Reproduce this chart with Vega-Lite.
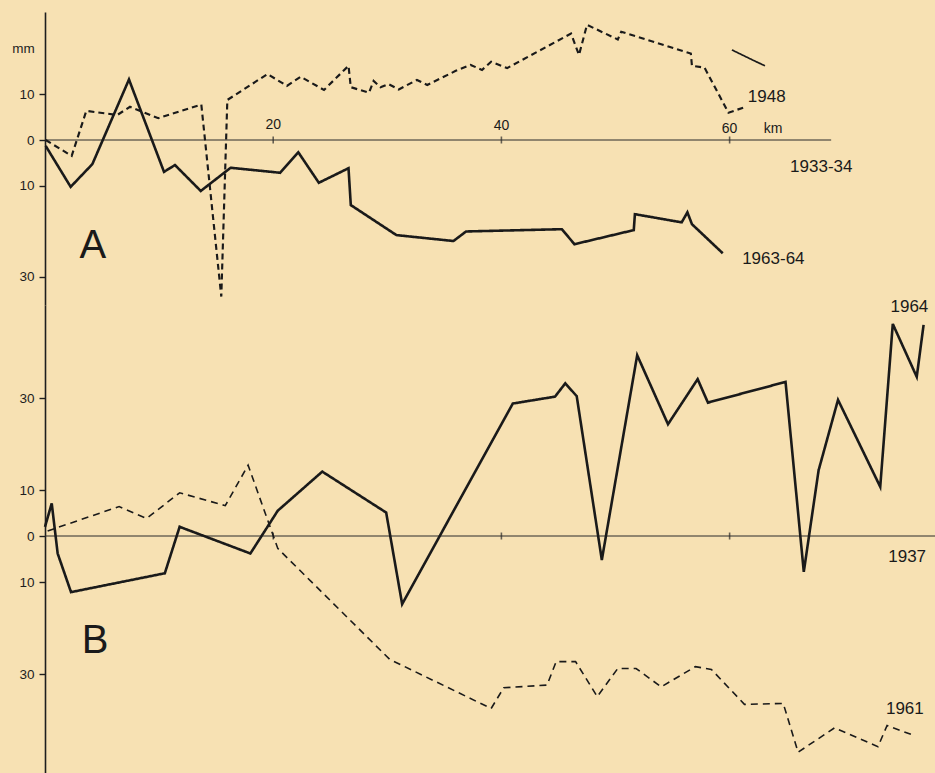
{
  "$schema": "https://vega.github.io/schema/vega-lite/v6.json",
  "background": "#F7E1B3",
  "padding": {"left": 0, "top": 12, "right": 0, "bottom": 0},
  "spacing": 0,
  "bounds": "flush",
  "resolve": {"scale": {"strokeWidth": "independent", "strokeDash": "independent"}},
  "config": {
    "view": {"stroke": null},
    "axis": {
      "domainColor": "#1e1e1e", "domainWidth": 1.6, "tickColor": "#1e1e1e", "tickWidth": 1.4, "tickSize": 6,
      "labelFont": "Liberation Sans", "labelFontSize": 13.5, "labelColor": "#1e1e1e", "labelPadding": 5,
      "titleFont": "Liberation Sans", "titleFontSize": 13.5, "titleFontWeight": "normal", "titleColor": "#1e1e1e",
      "grid": false, "minExtent": 45, "maxExtent": 45
    },
    "text": {"font": "Liberation Sans", "color": "#1a1a1a"}
  },
  "datasets": {
    "lines": [
      {"panel": "A", "series": "1963-64", "km": 0.06, "mm": -1.3},
      {"panel": "A", "series": "1963-64", "km": 2.25, "mm": -10.3},
      {"panel": "A", "series": "1963-64", "km": 4.15, "mm": -5.3},
      {"panel": "A", "series": "1963-64", "km": 7.36, "mm": 13.3},
      {"panel": "A", "series": "1963-64", "km": 10.43, "mm": -7.0},
      {"panel": "A", "series": "1963-64", "km": 11.39, "mm": -5.5},
      {"panel": "A", "series": "1963-64", "km": 13.65, "mm": -11.2},
      {"panel": "A", "series": "1963-64", "km": 16.27, "mm": -6.1},
      {"panel": "A", "series": "1963-64", "km": 20.6, "mm": -7.2},
      {"panel": "A", "series": "1963-64", "km": 22.2, "mm": -2.7},
      {"panel": "A", "series": "1963-64", "km": 24.0, "mm": -9.4},
      {"panel": "A", "series": "1963-64", "km": 26.6, "mm": -6.2},
      {"panel": "A", "series": "1963-64", "km": 26.8, "mm": -14.3},
      {"panel": "A", "series": "1963-64", "km": 30.8, "mm": -20.9},
      {"panel": "A", "series": "1963-64", "km": 35.8, "mm": -22.2},
      {"panel": "A", "series": "1963-64", "km": 36.9, "mm": -20.1},
      {"panel": "A", "series": "1963-64", "km": 45.3, "mm": -19.6},
      {"panel": "A", "series": "1963-64", "km": 46.4, "mm": -22.9},
      {"panel": "A", "series": "1963-64", "km": 51.6, "mm": -19.8},
      {"panel": "A", "series": "1963-64", "km": 51.7, "mm": -16.3},
      {"panel": "A", "series": "1963-64", "km": 55.8, "mm": -18.1},
      {"panel": "A", "series": "1963-64", "km": 56.3, "mm": -15.9},
      {"panel": "A", "series": "1963-64", "km": 56.7, "mm": -18.5},
      {"panel": "A", "series": "1963-64", "km": 59.4, "mm": -24.9},

      {"panel": "A", "series": "1948", "km": 0.06, "mm": 0},
      {"panel": "A", "series": "1948", "km": 2.34, "mm": -3.5},
      {"panel": "A", "series": "1948", "km": 3.62, "mm": 6.4},
      {"panel": "A", "series": "1948", "km": 6.34, "mm": 5.5},
      {"panel": "A", "series": "1948", "km": 7.45, "mm": 7.3},
      {"panel": "A", "series": "1948", "km": 9.93, "mm": 4.8},
      {"panel": "A", "series": "1948", "km": 13.7, "mm": 7.8},
      {"panel": "A", "series": "1948", "km": 15.45, "mm": -34.4},
      {"panel": "A", "series": "1948", "km": 15.98, "mm": 8.8},
      {"panel": "A", "series": "1948", "km": 19.5, "mm": 14.5},
      {"panel": "A", "series": "1948", "km": 21.2, "mm": 11.9},
      {"panel": "A", "series": "1948", "km": 22.4, "mm": 13.9},
      {"panel": "A", "series": "1948", "km": 24.45, "mm": 11.0},
      {"panel": "A", "series": "1948", "km": 26.6, "mm": 16.3},
      {"panel": "A", "series": "1948", "km": 26.8, "mm": 11.6},
      {"panel": "A", "series": "1948", "km": 28.4, "mm": 10.4},
      {"panel": "A", "series": "1948", "km": 28.8, "mm": 13.0},
      {"panel": "A", "series": "1948", "km": 29.4, "mm": 11.6},
      {"panel": "A", "series": "1948", "km": 30.1, "mm": 12.3},
      {"panel": "A", "series": "1948", "km": 31.0, "mm": 11.1},
      {"panel": "A", "series": "1948", "km": 32.6, "mm": 13.2},
      {"panel": "A", "series": "1948", "km": 33.5, "mm": 12.1},
      {"panel": "A", "series": "1948", "km": 36.0, "mm": 15.2},
      {"panel": "A", "series": "1948", "km": 37.3, "mm": 16.5},
      {"panel": "A", "series": "1948", "km": 38.3, "mm": 15.4},
      {"panel": "A", "series": "1948", "km": 39.1, "mm": 17.2},
      {"panel": "A", "series": "1948", "km": 40.5, "mm": 15.8},
      {"panel": "A", "series": "1948", "km": 46.1, "mm": 23.4},
      {"panel": "A", "series": "1948", "km": 46.8, "mm": 18.7},
      {"panel": "A", "series": "1948", "km": 47.5, "mm": 25.3},
      {"panel": "A", "series": "1948", "km": 50.2, "mm": 22.1},
      {"panel": "A", "series": "1948", "km": 50.5, "mm": 23.8},
      {"panel": "A", "series": "1948", "km": 56.6, "mm": 19.0},
      {"panel": "A", "series": "1948", "km": 56.7, "mm": 16.3},
      {"panel": "A", "series": "1948", "km": 57.8, "mm": 15.9},
      {"panel": "A", "series": "1948", "km": 59.9, "mm": 6.0},
      {"panel": "A", "series": "1948", "km": 61.3, "mm": 7.2},

      {"panel": "A", "series": "1948b", "km": 60.2, "mm": 19.8},
      {"panel": "A", "series": "1948b", "km": 62.0, "mm": 17.6},
      {"panel": "A", "series": "1948b", "km": 63.1, "mm": 16.3},

      {"panel": "B", "series": "1964", "km": 0.0, "mm": 2.0},
      {"panel": "B", "series": "1964", "km": 0.59, "mm": 7.1},
      {"panel": "B", "series": "1964", "km": 1.11, "mm": -3.8},
      {"panel": "B", "series": "1964", "km": 2.28, "mm": -12.2},
      {"panel": "B", "series": "1964", "km": 10.5, "mm": -8.1},
      {"panel": "B", "series": "1964", "km": 11.8, "mm": 2.0},
      {"panel": "B", "series": "1964", "km": 18.0, "mm": -3.8},
      {"panel": "B", "series": "1964", "km": 20.4, "mm": 5.5},
      {"panel": "B", "series": "1964", "km": 24.3, "mm": 14.0},
      {"panel": "B", "series": "1964", "km": 29.9, "mm": 5.1},
      {"panel": "B", "series": "1964", "km": 31.3, "mm": -14.8},
      {"panel": "B", "series": "1964", "km": 41.0, "mm": 28.8},
      {"panel": "B", "series": "1964", "km": 44.7, "mm": 30.3},
      {"panel": "B", "series": "1964", "km": 45.6, "mm": 33.2},
      {"panel": "B", "series": "1964", "km": 46.6, "mm": 30.4},
      {"panel": "B", "series": "1964", "km": 48.8, "mm": -5.2},
      {"panel": "B", "series": "1964", "km": 51.9, "mm": 39.3},
      {"panel": "B", "series": "1964", "km": 54.6, "mm": 24.3},
      {"panel": "B", "series": "1964", "km": 57.2, "mm": 34.1},
      {"panel": "B", "series": "1964", "km": 58.1, "mm": 29.0},
      {"panel": "B", "series": "1964", "km": 64.9, "mm": 33.5},
      {"panel": "B", "series": "1964", "km": 66.5, "mm": -7.8},
      {"panel": "B", "series": "1964", "km": 67.8, "mm": 14.3},
      {"panel": "B", "series": "1964", "km": 69.5, "mm": 29.6},
      {"panel": "B", "series": "1964", "km": 73.2, "mm": 10.7},
      {"panel": "B", "series": "1964", "km": 74.3, "mm": 46.1},
      {"panel": "B", "series": "1964", "km": 76.4, "mm": 34.6},
      {"panel": "B", "series": "1964", "km": 77.0, "mm": 45.9},

      {"panel": "B", "series": "1961", "km": 0.23, "mm": 1.1},
      {"panel": "B", "series": "1961", "km": 6.5, "mm": 6.4},
      {"panel": "B", "series": "1961", "km": 8.9, "mm": 3.8},
      {"panel": "B", "series": "1961", "km": 11.8, "mm": 9.4},
      {"panel": "B", "series": "1961", "km": 15.8, "mm": 6.6},
      {"panel": "B", "series": "1961", "km": 17.8, "mm": 15.4},
      {"panel": "B", "series": "1961", "km": 20.4, "mm": -2.7},
      {"panel": "B", "series": "1961", "km": 30.2, "mm": -26.8},
      {"panel": "B", "series": "1961", "km": 39.1, "mm": -37.5},
      {"panel": "B", "series": "1961", "km": 40.2, "mm": -33.0},
      {"panel": "B", "series": "1961", "km": 44.0, "mm": -32.4},
      {"panel": "B", "series": "1961", "km": 44.8, "mm": -27.3},
      {"panel": "B", "series": "1961", "km": 46.5, "mm": -27.3},
      {"panel": "B", "series": "1961", "km": 48.4, "mm": -34.9},
      {"panel": "B", "series": "1961", "km": 50.2, "mm": -28.8},
      {"panel": "B", "series": "1961", "km": 51.8, "mm": -28.8},
      {"panel": "B", "series": "1961", "km": 54.0, "mm": -32.8},
      {"panel": "B", "series": "1961", "km": 57.0, "mm": -28.4},
      {"panel": "B", "series": "1961", "km": 58.4, "mm": -29.0},
      {"panel": "B", "series": "1961", "km": 61.3, "mm": -36.6},
      {"panel": "B", "series": "1961", "km": 64.7, "mm": -36.4},
      {"panel": "B", "series": "1961", "km": 66.0, "mm": -47.0},
      {"panel": "B", "series": "1961", "km": 69.2, "mm": -41.7},
      {"panel": "B", "series": "1961", "km": 73.0, "mm": -45.8},
      {"panel": "B", "series": "1961", "km": 73.8, "mm": -41.2},
      {"panel": "B", "series": "1961", "km": 76.1, "mm": -43.3}
    ],
    "baselines": [
      {"panel": "A", "from": 0, "to": 68.9},
      {"panel": "B", "from": 0, "to": 78}
    ],
    "ticks": [
      {"panel": "A", "km": 20}, {"panel": "A", "km": 40}, {"panel": "A", "km": 60},
      {"panel": "B", "km": 20}, {"panel": "B", "km": 40}, {"panel": "B", "km": 60}
    ],
    "labels": [
      {"panel": "A", "kind": "series", "text": "1948", "km": 61.6, "mm": 9.4},
      {"panel": "A", "kind": "series", "text": "1933-34", "km": 65.3, "mm": -5.9},
      {"panel": "A", "kind": "series", "text": "1963-64", "km": 61.1, "mm": -26.2},
      {"panel": "B", "kind": "series", "text": "1964", "km": 74.1, "mm": 49.8},
      {"panel": "B", "kind": "series", "text": "1937", "km": 73.9, "mm": -4.6},
      {"panel": "B", "kind": "series", "text": "1961", "km": 73.7, "mm": -37.6},
      {"panel": "A", "kind": "panel", "text": "A", "km": 4.2, "mm": -23.3},
      {"panel": "B", "kind": "panel", "text": "B", "km": 4.4, "mm": -22.8},
      {"panel": "A", "kind": "tick", "text": "20", "km": 20, "mm": 1.8},
      {"panel": "A", "kind": "tick", "text": "40", "km": 40, "mm": 1.6},
      {"panel": "A", "kind": "tick", "text": "60", "km": 60, "mm": 0.8},
      {"panel": "A", "kind": "tick", "text": "km", "km": 63.8, "mm": 0.8}
    ]
  },
  "vconcat": [
    {
      "width": 890,
      "height": 293,
      "layer": [
        {
          "data": {"name": "baselines"},
          "transform": [{"filter": "datum.panel === 'A'"}],
          "mark": {"type": "rule", "color": "#2a2a2a", "strokeWidth": 1},
          "encoding": {
            "x": {"field": "from", "type": "quantitative", "scale": {"domain": [0, 78], "nice": false, "zero": false}, "axis": null},
            "x2": {"field": "to"},
            "y": {"datum": 0, "type": "quantitative", "scale": {"domain": [-36.26, 28.13], "nice": false, "zero": false},
              "axis": {"values": [10, 0, -10, -30], "labelExpr": "abs(datum.value) + ''", "title": "mm", "titleAngle": 0, "titleAlign": "center", "titleBaseline": "middle", "titleX": -22, "titleY": 36}}
          }
        },
        {
          "data": {"name": "ticks"},
          "transform": [{"filter": "datum.panel === 'A'"}],
          "mark": {"type": "tick", "orient": "vertical", "size": 7, "thickness": 1.6, "color": "#2a2a2a"},
          "encoding": {
            "x": {"field": "km", "type": "quantitative"},
            "y": {"datum": 0, "type": "quantitative"}
          }
        },
        {
          "data": {"name": "lines"},
          "transform": [{"filter": "datum.panel === 'A'"}],
          "mark": {"type": "line", "color": "#1a1a1a", "strokeJoin": "miter", "strokeCap": "butt"},
          "encoding": {
            "x": {"field": "km", "type": "quantitative"},
            "y": {"field": "mm", "type": "quantitative"},
            "detail": {"field": "series"},
            "strokeDash": {"field": "series", "type": "nominal", "legend": null,
              "scale": {"domain": ["1963-64", "1948", "1948b"], "range": [[1, 0], [6, 4], [1, 0]]}},
            "strokeWidth": {"field": "series", "type": "nominal", "legend": null,
              "scale": {"domain": ["1963-64", "1948", "1948b"], "range": [2.6, 1.7, 1.4]}}
          }
        },
        {
          "data": {"name": "labels"},
          "transform": [{"filter": "datum.panel === 'A' && datum.kind === 'series'"}],
          "mark": {"type": "text", "align": "left", "baseline": "middle", "fontSize": 17},
          "encoding": {"x": {"field": "km", "type": "quantitative"}, "y": {"field": "mm", "type": "quantitative"}, "text": {"field": "text"}}
        },
        {
          "data": {"name": "labels"},
          "transform": [{"filter": "datum.panel === 'A' && datum.kind === 'panel'"}],
          "mark": {"type": "text", "align": "center", "baseline": "middle", "fontSize": 40},
          "encoding": {"x": {"field": "km", "type": "quantitative"}, "y": {"field": "mm", "type": "quantitative"}, "text": {"field": "text"}}
        },
        {
          "data": {"name": "labels"},
          "transform": [{"filter": "datum.panel === 'A' && datum.kind === 'tick'"}],
          "mark": {"type": "text", "align": "center", "baseline": "bottom", "fontSize": 14},
          "encoding": {"x": {"field": "km", "type": "quantitative"}, "y": {"field": "mm", "type": "quantitative"}, "text": {"field": "text"}}
        }
      ]
    },
    {
      "width": 890,
      "height": 468,
      "layer": [
        {
          "data": {"name": "baselines"},
          "transform": [{"filter": "datum.panel === 'B'"}],
          "mark": {"type": "rule", "color": "#2a2a2a", "strokeWidth": 1},
          "encoding": {
            "x": {"field": "from", "type": "quantitative", "scale": {"domain": [0, 78], "nice": false, "zero": false}, "axis": null},
            "x2": {"field": "to"},
            "y": {"datum": 0, "type": "quantitative", "scale": {"domain": [-51.52, 50.22], "nice": false, "zero": false},
              "axis": {"values": [30, 10, 0, -10, -30], "labelExpr": "abs(datum.value) + ''", "title": null}}
          }
        },
        {
          "data": {"name": "ticks"},
          "transform": [{"filter": "datum.panel === 'B'"}],
          "mark": {"type": "tick", "orient": "vertical", "size": 7, "thickness": 1.6, "color": "#2a2a2a"},
          "encoding": {
            "x": {"field": "km", "type": "quantitative"},
            "y": {"datum": 0, "type": "quantitative"}
          }
        },
        {
          "data": {"name": "lines"},
          "transform": [{"filter": "datum.panel === 'B'"}],
          "mark": {"type": "line", "color": "#1a1a1a", "strokeJoin": "miter", "strokeCap": "butt"},
          "encoding": {
            "x": {"field": "km", "type": "quantitative"},
            "y": {"field": "mm", "type": "quantitative"},
            "detail": {"field": "series"},
            "strokeDash": {"field": "series", "type": "nominal", "legend": null,
              "scale": {"domain": ["1964", "1961"], "range": [[1, 0], [7, 5]]}},
            "strokeWidth": {"field": "series", "type": "nominal", "legend": null,
              "scale": {"domain": ["1964", "1961"], "range": [2.6, 1.6]}}
          }
        },
        {
          "data": {"name": "labels"},
          "transform": [{"filter": "datum.panel === 'B' && datum.kind === 'series'"}],
          "mark": {"type": "text", "align": "left", "baseline": "middle", "fontSize": 17},
          "encoding": {"x": {"field": "km", "type": "quantitative"}, "y": {"field": "mm", "type": "quantitative"}, "text": {"field": "text"}}
        },
        {
          "data": {"name": "labels"},
          "transform": [{"filter": "datum.panel === 'B' && datum.kind === 'panel'"}],
          "mark": {"type": "text", "align": "center", "baseline": "middle", "fontSize": 40},
          "encoding": {"x": {"field": "km", "type": "quantitative"}, "y": {"field": "mm", "type": "quantitative"}, "text": {"field": "text"}}
        }
      ]
    }
  ]
}
